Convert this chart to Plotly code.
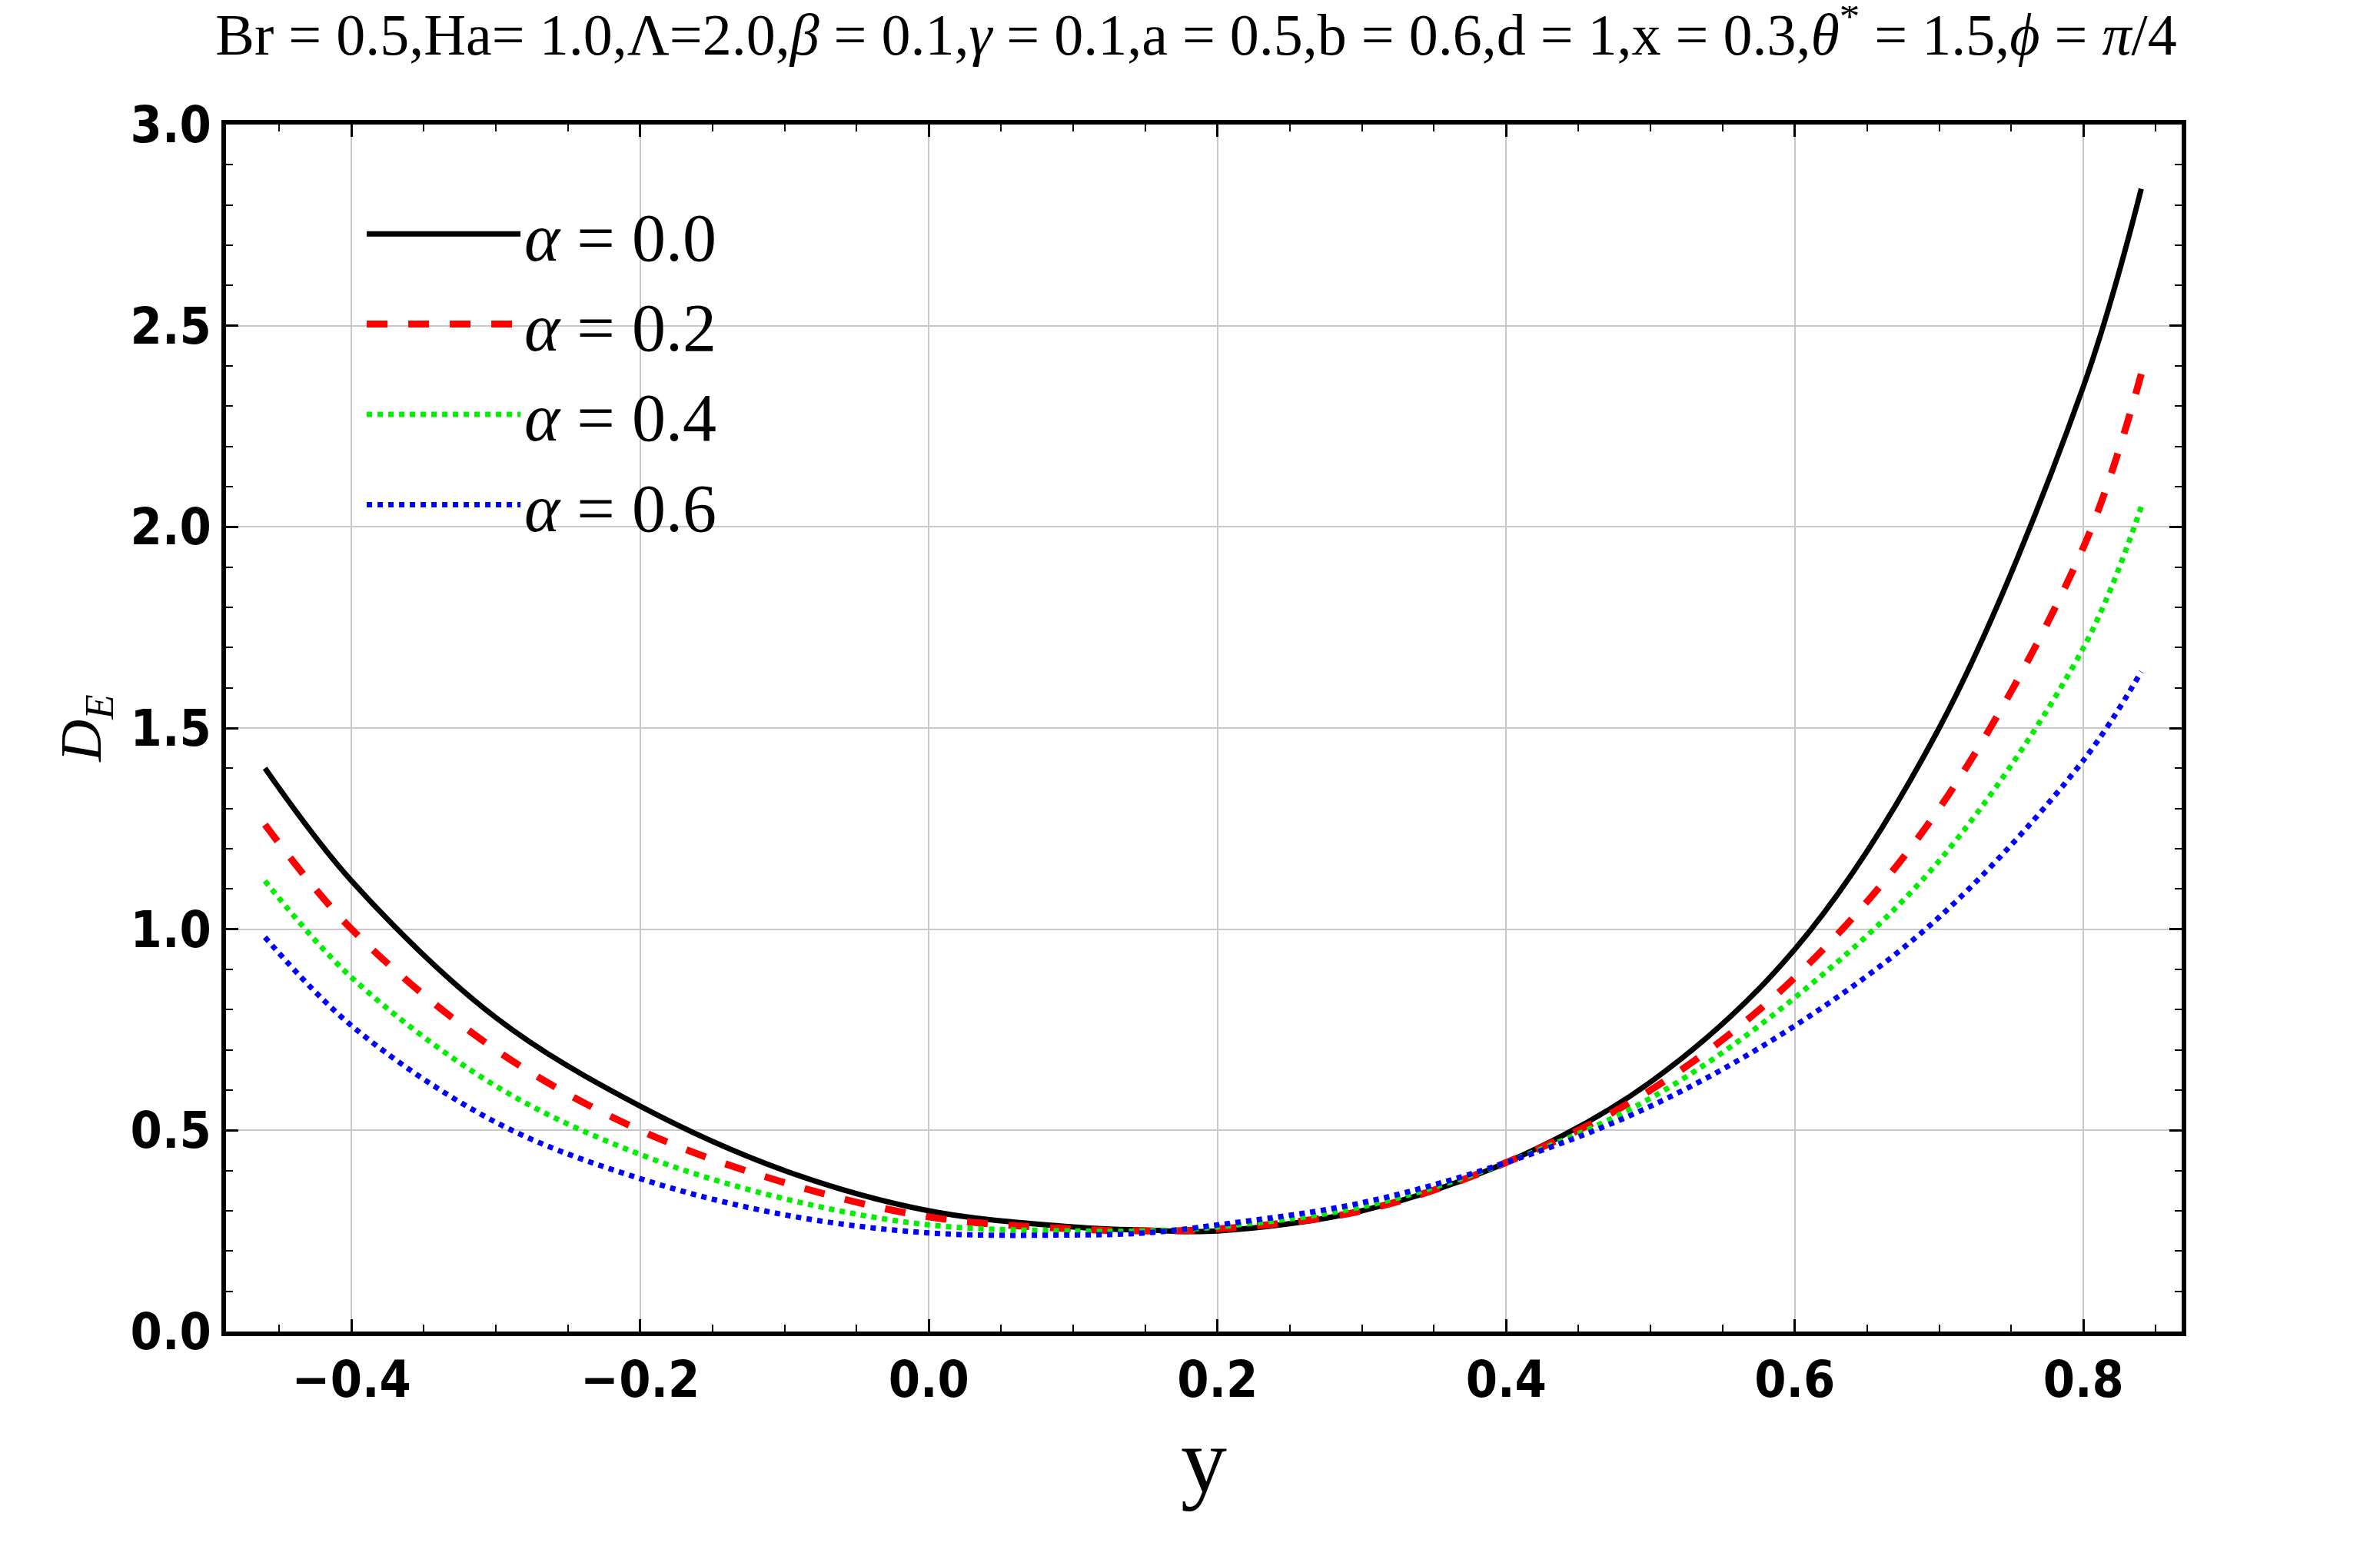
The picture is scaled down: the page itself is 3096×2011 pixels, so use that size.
import plotly.graph_objects as go

y_pos = [-0.46, -0.4, -0.3, -0.2, -0.1, 0.0, 0.1, 0.15, 0.2, 0.3, 0.4, 0.5, 0.6, 0.7, 0.8, 0.84]
de_a00 = [1.40, 1.12, 0.78, 0.56, 0.40, 0.30, 0.26, 0.252, 0.25, 0.30, 0.42, 0.62, 0.95, 1.50, 2.35, 2.84]
de_a02 = [1.26, 1.00, 0.70, 0.50, 0.37, 0.285, 0.255, 0.25, 0.255, 0.30, 0.42, 0.60, 0.88, 1.30, 1.95, 2.38]
de_a04 = [1.12, 0.88, 0.61, 0.44, 0.33, 0.265, 0.25, 0.25, 0.26, 0.31, 0.42, 0.58, 0.83, 1.17, 1.70, 2.05]
de_a06 = [0.98, 0.76, 0.52, 0.38, 0.29, 0.245, 0.24, 0.245, 0.265, 0.32, 0.42, 0.56, 0.76, 1.03, 1.42, 1.64]
labels = ["<i>α</i> = 0.0", "<i>α</i> = 0.2", "<i>α</i> = 0.4", "<i>α</i> = 0.6"]

styles = [("black", "solid", 7), ("red", "dash", 9), ("#00ee00", "dot", 7), ("blue", "dot", 7)]

fig = go.Figure()
for vals, lab, (c, d, w) in zip([de_a00, de_a02, de_a04, de_a06], labels, styles):
    fig.add_trace(go.Scatter(x=y_pos, y=vals, mode="lines", name=lab,
                             line=dict(color=c, dash=d, width=w, shape="spline")))

axis_common = dict(showline=True, linecolor="black", linewidth=6, mirror="ticks",
                   ticks="inside", ticklen=16, tickwidth=3, tickcolor="black",
                   showgrid=True, gridcolor="#c8c8c8", gridwidth=2, zeroline=False,
                   minor=dict(ticks="inside", ticklen=9, tickwidth=2, tickcolor="black", showgrid=False),
                   tickfont=dict(family="DejaVu Sans Condensed", size=66, color="black", weight="bold"))

fig.update_xaxes(range=[-0.487, 0.868], tickvals=[-0.4, -0.2, 0.0, 0.2, 0.4, 0.6, 0.8],
                 ticktext=["−0.4", "−0.2", "0.0", "0.2", "0.4", "0.6", "0.8"],
                 minor_dtick=0.05,
                 title=dict(text="y", font=dict(family="Liberation Serif", size=120, color="black"), standoff=15),
                 **axis_common)
fig.update_yaxes(range=[0, 3], dtick=0.5, tickformat=".1f", minor_dtick=0.1,
                 title=dict(text="<i>D<sub>E</sub></i>", font=dict(family="Liberation Serif", size=76, color="black"), standoff=15),
                 **axis_common)

fig.update_layout(
    width=3096, height=2011, plot_bgcolor="white", paper_bgcolor="white",
    margin=dict(l=286, r=266, t=154, b=287),
    title=dict(text="Br = 0.5,Ha= 1.0,Λ=2.0,<i>β</i> = 0.1,<i>γ</i> = 0.1,a = 0.5,b = 0.6,d = 1,x = 0.3,<i>θ</i><sup>*</sup> = 1.5,<i>ϕ</i> = <i>π</i>/4",
               x=0.5, xanchor="center", y=0.995, yanchor="top",
               font=dict(family="Liberation Serif", size=76, color="black")),
    legend=dict(x=0.07, y=0.95, xanchor="left", yanchor="top", bgcolor="rgba(0,0,0,0)",
                font=dict(family="Liberation Serif", size=88, color="black"),
                itemwidth=200),
    showlegend=True,
)

fig.write_html("out.html")
